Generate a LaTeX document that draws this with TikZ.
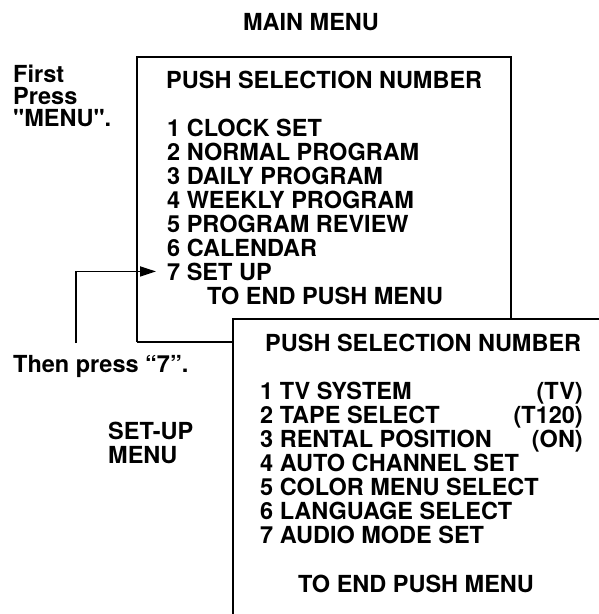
\documentclass[tikz,border=0pt]{standalone}
\usepackage{fontspec}
\setmainfont{TeX Gyre Heros}
\usetikzlibrary{arrows.meta}

\begin{document}
\begin{tikzpicture}[x=1pt,y=-1pt,
	menutext/.style={anchor=base west,inner sep=0pt,font=\fontsize{23.5}{24}\selectfont\bfseries},
	valtext/.style={menutext,anchor=base east},
	frame/.style={line width=1.7pt},
	flow/.style={line width=1.7pt,-{Triangle[length=16pt,width=10pt]}}]
	\useasboundingbox (0,0) rectangle (599,614);
	\node[menutext,anchor=base] (mainhead) at (311,30) {MAIN MENU};
	%
	\node[menutext] (first1) at (13,82) {First};
	\node[menutext] (first2) at (13,104) {Press};
	\node[menutext] (first3) at (13,126) {\textquotedbl MENU\textquotedbl.};
	%
	\draw[frame] (137,342) -- (137,57) -- (511,57) -- (511,319);
	\draw[frame] (137,342) -- (233,342);
	\node[menutext] (mtitle) at (166,88) {PUSH SELECTION NUMBER};
	\foreach \t [count=\i] in {CLOCK SET,NORMAL PROGRAM,DAILY PROGRAM,WEEKLY PROGRAM,PROGRAM REVIEW,CALENDAR,SET UP}
		\node[menutext] (m\i) at (167,{136+24*(\i-1)}) {\i\ \t};
	\node[menutext] (mend) at (207,304) {TO END PUSH MENU};
	%
	\coordinate (pressfoot) at (76,343);
	\draw[flow,shorten >=11pt] (pressfoot) |- (m7.west);
	\node[menutext] (then) at (13,372) {Then press “7”.};
	%
	\node[menutext] (setup1) at (108,439) {SET-UP};
	\node[menutext] (setup2) at (108,463) {MENU};
	%
	\draw[frame] (233,614) -- (233,319) -- (599,319);
	\node[menutext] (stitle) at (265,351) {PUSH SELECTION NUMBER};
	\foreach \t [count=\i] in {TV SYSTEM,TAPE SELECT,RENTAL POSITION,AUTO CHANNEL SET,COLOR MENU SELECT,LANGUAGE SELECT,AUDIO MODE SET}
		\node[menutext] (s\i) at (260,{399+24*(\i-1)}) {\i\ \t};
	\node[valtext] (v1) at (583,399) {(TV)};
	\node[valtext] (v2) at (583,423) {(T120)};
	\node[valtext] (v3) at (583,447) {(ON)};
	\node[menutext,anchor=base] (send) at (416,592) {TO END PUSH MENU};
\end{tikzpicture}
\end{document}
